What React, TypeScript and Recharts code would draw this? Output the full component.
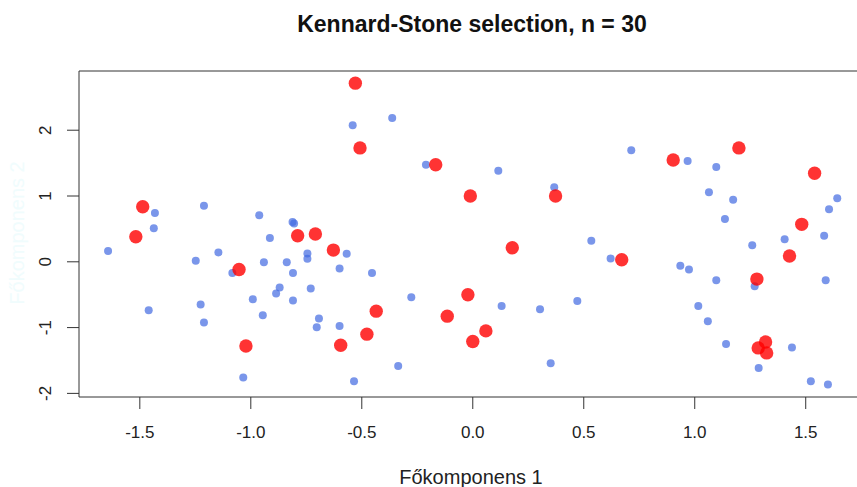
import { ScatterChart, Scatter, XAxis, YAxis, ReferenceLine } from 'recharts';

// all samples (scores on PC1 / PC2), not selected
const restPc1 = [
  -0.541, -1.432, -1.211, -0.962, -0.812, -0.805, -1.437, -0.914, -1.643, -1.146,
  -1.248, -0.745, -0.745, -0.568, -1.083, -0.941, -0.838, -0.81, -0.6, -0.454,
  -0.87, -0.886, -0.73, -0.991, -0.81, -1.46, -1.226, -1.211, -0.946, -0.693,
  -0.703, -0.6, -1.034, -0.535, -0.363, -0.211, 0.115, 0.367, 0.714, 0.968,
  1.097, 1.064, 1.173, 1.136, 1.642, 1.605, 0.534, 0.621, -0.277, 0.13,
  0.303, 0.471, -0.336, 0.351, 1.583, 1.405, 1.259, 0.935, 0.974, 1.097,
  1.27, 1.59, 1.016, 1.059, 1.141, 1.438, 1.288, 1.523, 1.6,
];
const restPc2 = [
  2.076, 0.741, 0.852, 0.706, 0.604, 0.581, 0.508, 0.361, 0.163, 0.143,
  0.015, 0.128, 0.046, 0.122, -0.172, -0.005, -0.005, -0.172, -0.1, -0.172,
  -0.39, -0.481, -0.405, -0.568, -0.588, -0.735, -0.648, -0.922, -0.811, -0.861,
  -0.994, -0.974, -1.76, -1.816, 2.187, 1.476, 1.385, 1.132, 1.696, 1.533,
  1.441, 1.056, 0.944, 0.65, 0.965, 0.798, 0.32, 0.052, -0.537, -0.67,
  -0.72, -0.594, -1.583, -1.542, 0.396, 0.341, 0.25, -0.061, -0.116, -0.279,
  -0.37, -0.279, -0.67, -0.903, -1.248, -1.303, -1.613, -1.816, -1.866,
];

// Kennard-Stone selected samples (n = 30)
const selPc1 = [
  -0.529, -0.508, -1.487, -1.518, -0.789, -0.709, -0.628, -1.053, -1.022, -0.595,
  -0.477, -0.435, -0.167, -0.011, 0.373, 0.178, 0.671, -0.022, -0.115, 0.059,
  0.0, 0.903, 1.199, 1.54, 1.482, 1.427, 1.28, 1.286, 1.319, 1.324,
];
const selPc2 = [
  2.715, 1.731, 0.837, 0.381, 0.396, 0.422, 0.178, -0.116, -1.279, -1.268,
  -1.1, -0.75, 1.476, 1.0, 1.0, 0.213, 0.03, -0.502, -0.826, -1.05,
  -1.212, 1.548, 1.731, 1.345, 0.569, 0.087, -0.263, -1.309, -1.218, -1.385,
];

const xTicks = [-1.5, -1, -0.5, 0, 0.5, 1, 1.5];
const yTicks = [-2, -1, 0, 1, 2];

const restData = restPc1.map((x, i) => ({ x, y: restPc2[i] }));
const selData = selPc1.map((x, i) => ({ x, y: selPc2[i] }));

const FONT = '"Liberation Sans", Arial, sans-serif';

function XTick(props: any) {
  const { x, payload } = props;
  return (
    <text x={x} y={438} textAnchor="middle" fontSize={17} fill="#222" fontFamily={FONT}>
      {payload.value.toFixed(1)}
    </text>
  );
}

function YTick(props: any) {
  const { y, payload } = props;
  return (
    <text
      x={51}
      y={y}
      transform={`rotate(-90 51 ${y})`}
      textAnchor="middle"
      fontSize={17}
      fill="#222"
      fontFamily={FONT}
    >
      {payload.value}
    </text>
  );
}

export default function App() {
  return (
    <div
      style={{
        position: 'absolute',
        left: 0,
        top: 0,
        width: 857,
        height: 487,
        overflow: 'hidden',
        background: '#fff',
      }}
    >
      <ScatterChart width={857} height={487} margin={{ top: 71, right: 0, bottom: 0, left: 0 }}>
        <XAxis
          type="number"
          dataKey="x"
          domain={[-1.774, 1.731]}
          ticks={xTicks}
          allowDataOverflow
          height={90}
          tickSize={12}
          tick={<XTick />}
          axisLine={{ stroke: '#333' }}
          tickLine={{ stroke: '#333' }}
        />
        <YAxis
          type="number"
          dataKey="y"
          domain={[-2.055, 2.9]}
          ticks={yTicks}
          allowDataOverflow
          width={79}
          tickSize={12}
          tick={<YTick />}
          axisLine={{ stroke: '#333' }}
          tickLine={{ stroke: '#333' }}
        />
        <ReferenceLine y={2.9} stroke="#333" />
        <Scatter
          data={restData}
          isAnimationActive={false}
          shape={(p: any) => <circle cx={p.cx} cy={p.cy} r={4} fill="#4169E1" fillOpacity={0.7} />}
        />
        <Scatter
          data={selData}
          isAnimationActive={false}
          shape={(p: any) => <circle cx={p.cx} cy={p.cy} r={6.7} fill="#ff0000" fillOpacity={0.8} />}
        />
      </ScatterChart>
      <svg
        width={857}
        height={487}
        style={{ position: 'absolute', left: 0, top: 0, pointerEvents: 'none' }}
      >
        <text x={472} y={32} textAnchor="middle" fontSize={23} fontWeight="bold" fill="#111" fontFamily={FONT}>
          Kennard-Stone selection, n = 30
        </text>
        <text x={471} y={484} textAnchor="middle" fontSize={20} fill="#222" fontFamily={FONT}>
          Főkomponens 1
        </text>
        <text
          x={24}
          y={233}
          transform="rotate(-90 24 233)"
          textAnchor="middle"
          fontSize={20}
          fill="#f0fcfd"
          fontFamily={FONT}
        >
          Főkomponens 2
        </text>
      </svg>
    </div>
  );
}
